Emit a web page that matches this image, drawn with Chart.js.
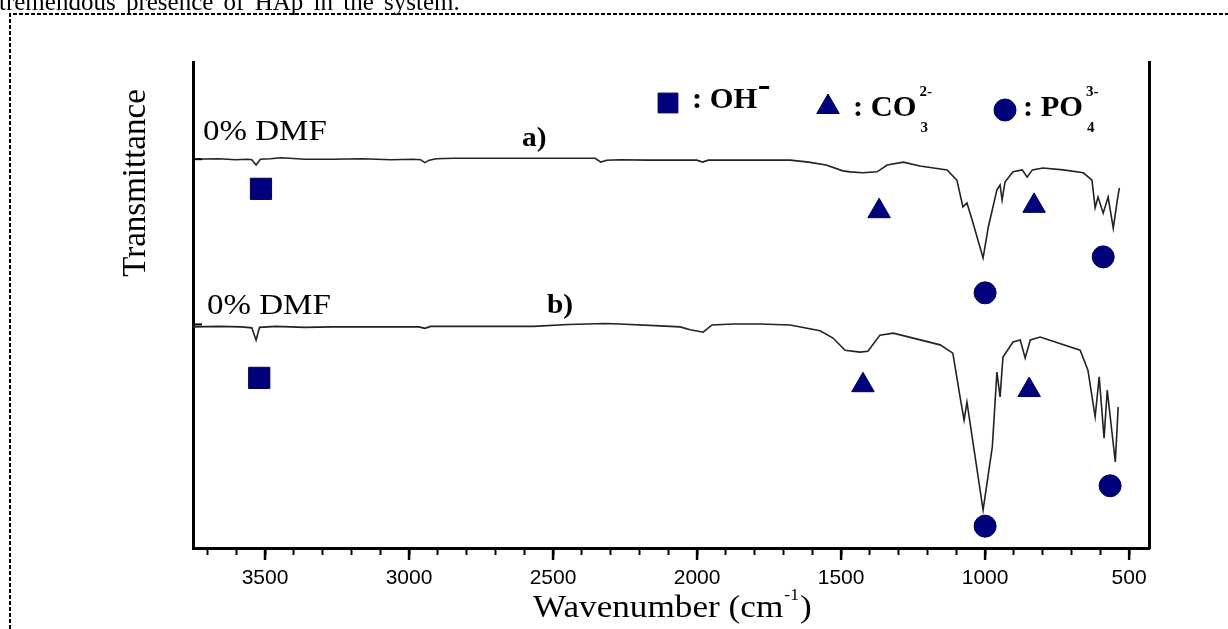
<!DOCTYPE html>
<html><head><meta charset="utf-8">
<script src="https://cdn.jsdelivr.net/npm/chart.js@4.4.0/dist/chart.umd.min.js"></script>
<style>html,body{margin:0;padding:0;background:#fff;overflow:hidden}#wrap{position:relative;width:1228px;height:629px}</style>
</head><body><div id="wrap"><canvas id="c" width="1228" height="629"></canvas></div>
<script>
// ---- data (wavenumber in cm-1, transmittance in arbitrary units) ----
const waveA = [3750,3661,3601,3561,3546,3531,3516,3482,3442,3362,3263,3164,3064,2985,2960,2945,2930,2905,2846,2766,2567,2418,2354,2334,2314,2269,2170,2071,2001,1981,1961,1872,1772,1677,1613,1552,1494,1468,1425,1375,1340,1284,1226,1132,1098,1077,1063,1045,1007,989,959,948,941,931,903,871,854,836,799,729,659,629,618,608,590,573,555,541,534];
const transA = [80.0,80.1,79.9,80.0,79.9,78.8,80.0,80.1,80.3,80.0,80.0,80.1,79.9,80.0,79.9,79.3,79.8,80.1,80.2,80.2,80.2,80.2,80.2,79.4,79.8,79.9,79.8,79.8,79.8,79.4,79.8,79.8,79.8,79.8,79.4,78.8,77.6,77.4,77.2,77.4,78.8,79.4,78.6,77.8,75.7,70.2,71.0,67.5,59.7,66.0,73.7,74.7,71.6,75.3,77.4,77.8,76.3,77.8,78.2,77.8,77.2,75.7,70.0,72.2,68.9,72.2,65.8,71.6,74.1];
const waveB = [3750,3661,3581,3546,3531,3519,3462,3362,3263,3164,2965,2945,2925,2766,2567,2448,2319,2269,2128,2059,2024,1979,1948,1875,1781,1677,1573,1528,1486,1434,1407,1365,1319,1156,1112,1087,1073,1063,1007,975,959,948,938,903,878,861,843,809,670,643,618,604,587,576,548,538];
const transB = [45.5,45.6,45.5,45.3,42.8,45.4,45.6,45.4,45.5,45.5,45.5,45.2,45.6,45.6,45.6,46.0,46.2,46.1,45.7,45.5,44.9,44.4,45.9,46.1,46.1,45.9,44.7,43.2,40.7,40.3,40.5,43.8,44.2,41.8,40.1,31.1,26.3,30.0,7.8,20.8,36.2,31.1,39.3,42.4,42.8,39.1,42.8,43.4,40.7,36.6,27.0,35.2,22.6,32.5,17.7,29.0];
const ohWave = [3514,3520];
const ohTrans = [73.9,35.0];
const co3Wave = [1368,830,1424,847];
const co3Trans = [69.3,70.4,33.5,32.5];
const po4Wave = [1000,590,1000,566];
const po4Trans = [52.5,59.9,4.5,12.8];
const xTickValues = [3700,3600,3500,3400,3300,3200,3100,3000,2900,2800,2700,2600,2500,2400,2300,2200,2100,2000,1900,1800,1700,1600,1500,1400,1300,1200,1100,1000,900,800,700,600,500];
const xMajorTicks = [3500,3000,2500,2000,1500,1000,500];
const yBaselineTicks = [80,46];
const spectrumLabels = ['0% DMF','0% DMF'];
const panelLabels = ['a)','b)'];

const NAVY = '#00007c';
const SERIF = '"Liberation Serif","Times New Roman",serif';
const pts = (xs, ys) => xs.map((x,i)=>({x:x,y:ys[i]}));

function stext(c, s, x, y, font, sx, align){
  c.save(); c.font = font; c.textAlign = align||'left'; c.textBaseline='alphabetic';
  c.translate(x,y); c.scale(sx||1,1); c.fillText(s,0,0);
  const w = c.measureText(s).width*(sx||1); c.restore(); return w;
}
function marker(c, style, r, x, y){
  c.save(); c.fillStyle = NAVY; c.strokeStyle = '#00005a'; c.lineWidth = 1;
  Chart.helpers.drawPoint(c, {pointStyle: style, radius: r, rotation: 0, borderWidth: 1}, x, y);
  c.restore();
}

const deco = {
  id: 'deco',
  beforeDraw(chart){
    const c = chart.ctx;
    c.save();
    c.fillStyle = '#fff'; c.fillRect(0,0,chart.width,chart.height);
    c.fillStyle = '#000';
    c.save(); c.font = '25px ' + SERIF; c.wordSpacing = '4px';
    c.fillText('tremendous presence of HAp in the system.', -1, 10); c.restore();
    c.strokeStyle = '#000'; c.lineWidth = 2; c.setLineDash([4,2]);
    c.beginPath(); c.moveTo(10, 629); c.lineTo(10, 14); c.lineTo(1228, 14); c.stroke();
    c.restore();
  },
  afterDraw(chart){
    const c = chart.ctx, a = chart.chartArea, xs = chart.scales.x, ys = chart.scales.y;
    c.save();
    c.strokeStyle = '#000';
    c.lineWidth = 2;
    yBaselineTicks.forEach(v => { const py = ys.getPixelForValue(v); c.beginPath(); c.moveTo(a.left, py); c.lineTo(a.left+9, py); c.stroke(); });
    c.lineWidth = 2.5;
    xMajorTicks.forEach(v => { const px = xs.getPixelForValue(v); c.beginPath(); c.moveTo(px, a.bottom); c.lineTo(px, a.bottom+12); c.stroke(); });
    c.fillStyle = '#000';
    stext(c, spectrumLabels[0], 203, 140, '30px '+SERIF, 1.1);
    stext(c, spectrumLabels[1], 207, 314, '30px '+SERIF, 1.1);
    stext(c, panelLabels[0], 522, 146, 'bold 28px '+SERIF, 1.05);
    stext(c, panelLabels[1], 547, 313, 'bold 28px '+SERIF, 1.05);
    marker(c, 'rect', 14, 668, 103);
    marker(c, 'triangle', 13, 828, 107);
    marker(c, 'circle', 11, 1005, 110);
    const LF = 'bold 29px '+SERIF, SF = 'bold 15px '+SERIF;
    let w = stext(c, ': OH', 692, 108, LF, 1.05);
    c.fillRect(692+w+2, 86, 10, 3);
    w = stext(c, ': CO', 853, 116, LF, 1.05);
    stext(c, '2-', 853+w+3, 96, SF, 1);
    stext(c, '3', 853+w+4, 132, SF, 1);
    w = stext(c, ': PO', 1023, 116, LF, 1.05);
    stext(c, '3-', 1023+w+3, 96, SF, 1);
    stext(c, '4', 1023+w+4, 132, SF, 1);
    c.save(); c.translate(145, 183); c.rotate(-Math.PI/2); c.font = '33px '+SERIF; c.textAlign='center'; c.fillText('Transmittance', 0, 0); c.restore();
    w = stext(c, 'Wavenumber (cm', 533, 617, '32px '+SERIF, 1.1);
    const w2 = stext(c, '-1', 533+w+1, 600, '16px '+SERIF, 1.1);
    stext(c, ')', 533+w+w2+2, 617, '32px '+SERIF, 1.1);
    c.restore();
  }
};

const lineDs = (label, xs, ys) => ({ type:'line', label, data: pts(xs,ys), borderColor:'#222', borderWidth:1.6, pointRadius:0, tension:0, fill:false });
const markDs = (label, xs, ys, style, r) => ({ type:'scatter', label, data: pts(xs,ys), pointStyle: style, pointRadius: r, pointHoverRadius: r, backgroundColor: NAVY, borderColor:'#00005a', borderWidth:1 });

new Chart(document.getElementById('c'), {
  data: { datasets: [
    lineDs('a', waveA, transA),
    lineDs('b', waveB, transB),
    markDs('OH', ohWave, ohTrans, 'rect', 15),
    markDs('CO3', co3Wave, co3Trans, 'triangle', 13),
    markDs('PO4', po4Wave, po4Trans, 'circle', 11)
  ]},
  options: {
    responsive: false, animation: false, devicePixelRatio: 1,
    layout: { padding: { left: 193, right: 79, top: 62, bottom: 0 } },
    plugins: { legend: { display: false }, tooltip: { enabled: false } },
    scales: {
      x: { type: 'linear', reverse: true, min: 431, max: 3750,
        afterBuildTicks: s => { s.ticks = xTickValues.map(v => ({ value: v })); },
        afterFit: s => { s.height = 81; },
        ticks: { autoSkip: false, maxRotation: 0, padding: 11, color: '#000',
          font: { family: '"Liberation Sans", Arial, sans-serif', size: 21 },
          callback: v => xMajorTicks.includes(v) ? String(v) : '' },
        grid: { drawOnChartArea: false, drawTicks: true, tickLength: 7, tickWidth: 2, tickColor: '#000' },
        border: { display: true, color: '#000', width: 3 } },
      y: { type: 'linear', min: 0, max: 100, position: 'left',
        afterFit: s => { s.width = 0; },
        ticks: { display: false }, grid: { display: false },
        border: { display: true, color: '#000', width: 3 } },
      y2: { type: 'linear', min: 0, max: 100, position: 'right',
        afterFit: s => { s.width = 0; },
        ticks: { display: false }, grid: { display: false },
        border: { display: true, color: '#000', width: 3 } }
    }
  },
  plugins: [deco]
});
</script></body></html>
